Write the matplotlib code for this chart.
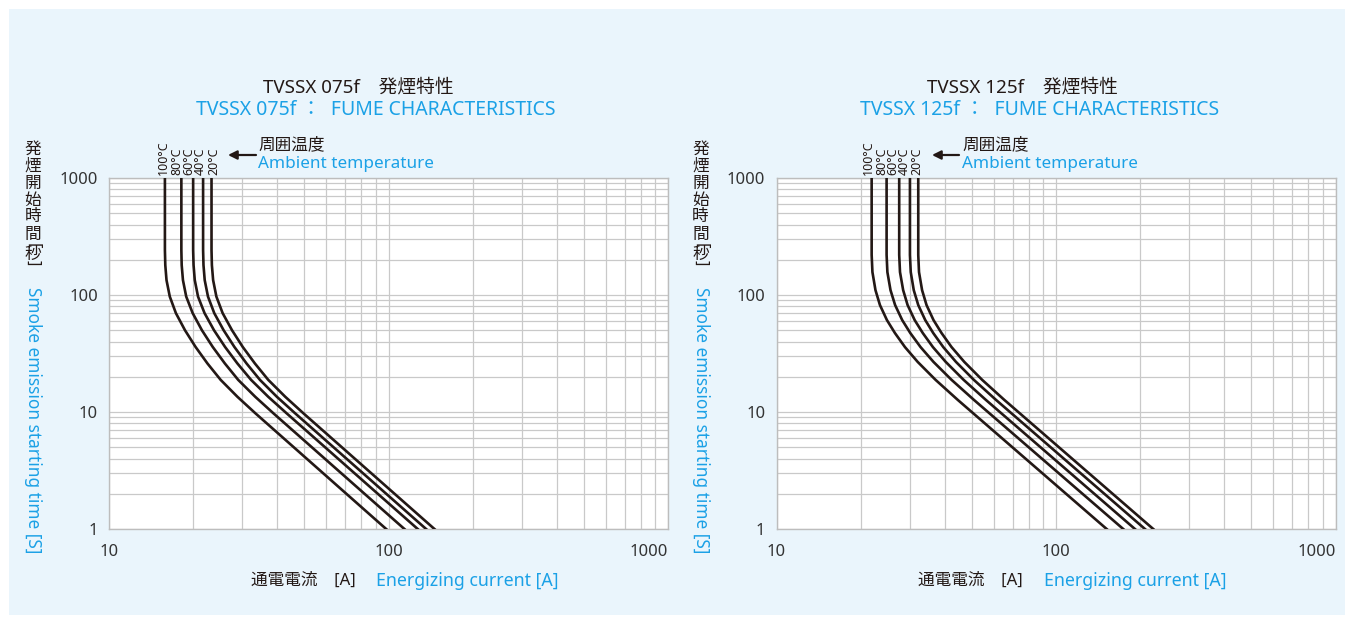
import matplotlib
matplotlib.use("Agg")
import matplotlib.pyplot as plt
from matplotlib.patches import Rectangle
from matplotlib.ticker import FixedLocator, FixedFormatter, LogLocator, NullFormatter

plt.rcParams['font.family'] = ['Noto Sans', 'Noto Sans CJK JP', 'DejaVu Sans']

W, H = 1347, 617
ink = '#231815'
blue = '#1ba1e6'
panel = '#eaf5fc'
gridc = '#c9c9c9'

temps = ['100°C', '80°C', '60°C', '40°C', '20°C']
xticks = [10, 100, 1000]
yticks = [1, 10, 100, 1000]

# TVSSX 075f  (time [s] vs current [A])
t_075 = [1000, 242, 180, 134, 97, 70, 50, 36, 26, 18.8, 13.5, 9.75, 1]
i075_100 = [15.85, 15.85, 15.9, 16.06, 16.5, 17.35, 18.7, 20.4, 22.5, 25.1, 28.8, 33.4, 98.1]
i075_80 = [18.15, 18.15, 18.2, 18.39, 18.89, 19.92, 21.5, 23.5, 25.97, 29.0, 33.35, 38.74, 114.0]
i075_60 = [20.0, 20.0, 20.07, 20.27, 20.82, 21.97, 23.75, 26.01, 28.8, 32.25, 37.12, 43.19, 127.2]
i075_40 = [21.71, 21.71, 21.78, 22.0, 22.6, 23.8, 25.71, 28.09, 31.05, 34.69, 39.86, 46.33, 136.3]
i075_20 = [23.27, 23.27, 23.34, 23.58, 24.22, 25.5, 27.55, 30.09, 33.26, 37.15, 42.71, 49.6, 146.0]

# TVSSX 125f
t_125 = [1000, 220, 157, 110, 82, 61, 47.3, 35.9, 26.8, 18.8, 12.7, 1]
i125_100 = [21.9, 21.9, 22.04, 22.6, 23.45, 24.84, 26.53, 28.81, 32.0, 37.1, 44.5, 151.8]
i125_80 = [24.77, 24.77, 24.93, 25.58, 26.57, 28.17, 30.11, 32.76, 36.45, 42.33, 50.84, 174.0]
i125_60 = [27.48, 27.48, 27.66, 28.39, 29.45, 31.22, 33.37, 36.27, 40.32, 46.75, 56.09, 191.6]
i125_40 = [30.02, 30.02, 30.22, 30.98, 32.15, 34.06, 36.37, 39.5, 43.87, 50.86, 60.98, 208.1]
i125_20 = [32.15, 32.15, 32.35, 33.18, 34.42, 36.46, 38.95, 42.29, 46.98, 54.46, 65.3, 222.8]


fig = plt.figure(figsize=(W / 100, H / 100), dpi=100)
fig.patch.set_facecolor('white')
fig.patches.append(Rectangle((9 / W, 1 - 615 / H), 1336 / W, 606 / H,
                             transform=fig.transFigure, facecolor=panel,
                             edgecolor='none', zorder=-10))


def ftext(x, y, s, **kw):
    # x, y in pixels from the top-left corner
    return fig.text(x / W, 1 - y / H, s, **kw)


def chart(x0, name, t, curves, lab_x, arrow_x, note_x, title_x, sub_x):
    ax = fig.add_axes([x0 / W, 1 - 529 / H, 559 / W, 351 / H])
    ax.set_facecolor('white')
    ax.set_xscale('log')
    ax.set_yscale('log')
    ax.set_xlim(10, 1000)
    ax.set_ylim(1, 1000)
    for cur in curves:
        ax.plot(cur, t, color=ink, lw=1.9, solid_joinstyle='round', zorder=3)
    # temperature labels above the curve tops
    for lx, lab in zip(lab_x, temps):
        ftext(lx, 175, lab, rotation=90, ha='center', va='bottom',
              fontsize=9, color=ink)

    ax.xaxis.set_major_locator(FixedLocator(xticks))
    ax.xaxis.set_major_formatter(FixedFormatter([str(v) for v in xticks]))
    ax.yaxis.set_major_locator(FixedLocator(yticks))
    ax.yaxis.set_major_formatter(FixedFormatter([str(v) for v in yticks]))
    for a in (ax.xaxis, ax.yaxis):
        a.set_minor_locator(LogLocator(base=10, subs=range(2, 10)))
        a.set_minor_formatter(NullFormatter())
    ax.grid(True, which='both', color=gridc, lw=0.9, zorder=0)
    ax.tick_params(which='both', length=0, labelsize=12, labelcolor='#333333')
    ax.tick_params(axis='x', pad=11)
    ax.tick_params(axis='y', pad=8)
    ax.get_xticklabels()[-1].set_ha('right')
    for s in ax.spines.values():
        s.set_color('#bdbdbd')
        s.set_linewidth(1.0)

    # titles
    ftext(title_x, 87, f'TVSSX {name}\u3000発煙特性', ha='center',
          va='center', fontsize=13.5, color=ink)
    ftext(sub_x, 110, f'TVSSX {name} ：  FUME CHARACTERISTICS', ha='center',
          va='center', fontsize=14, color=blue)

    # ambient temperature note
    ax.annotate('', xy=(arrow_x[0] / W, 1 - 155 / H),
                xytext=(arrow_x[1] / W, 1 - 155 / H),
                xycoords='figure fraction', textcoords='figure fraction',
                arrowprops=dict(arrowstyle='-|>', color=ink, lw=1.6,
                                mutation_scale=13, shrinkA=0, shrinkB=0))
    ftext(note_x, 145, '周囲温度', ha='left', va='center', fontsize=12,
          color=ink)
    ftext(note_x, 164, 'Ambient temperature', ha='left', va='center',
          fontsize=12.3, color=blue)

    # y label (vertical Japanese + rotated English)
    yx = x0 - 76
    for k, ch in enumerate('発煙開始時間'):
        ftext(yx, 149.5 + 17 * k, ch, ha='center', va='center', fontsize=12,
              color=ink)
    ftext(yx, 246, '[', ha='center', va='center', fontsize=12, color=ink,
          rotation=-90)
    ftext(yx, 254.5, '秒', ha='center', va='center', fontsize=12, color=ink)
    ftext(yx, 263, ']', ha='center', va='center', fontsize=12, color=ink,
          rotation=-90)
    ftext(yx, 420, 'Smoke emission starting time [S]', ha='center',
          va='center', fontsize=12.4, color=blue, rotation=-90)

    # x label
    ftext(x0 + 142, 581, '通電電流\u3000[A]', ha='left', va='center',
          fontsize=12, color=ink)
    ftext(x0 + 267, 581, 'Energizing current [A]', ha='left', va='center',
          fontsize=12.8, color=blue)
    return ax


chart(109, '075f', t_075, [i075_100, i075_80, i075_60, i075_40, i075_20],
      lab_x=[163.5, 176.5, 188.5, 200.5, 213.5], arrow_x=(228, 256),
      note_x=258, title_x=358, sub_x=376)
chart(776.5, '125f', t_125, [i125_100, i125_80, i125_60, i125_40, i125_20],
      lab_x=[868, 881.5, 893, 904.5, 917], arrow_x=(932, 959),
      note_x=962, title_x=1022, sub_x=1040)

fig.savefig('out.png', dpi=100)
